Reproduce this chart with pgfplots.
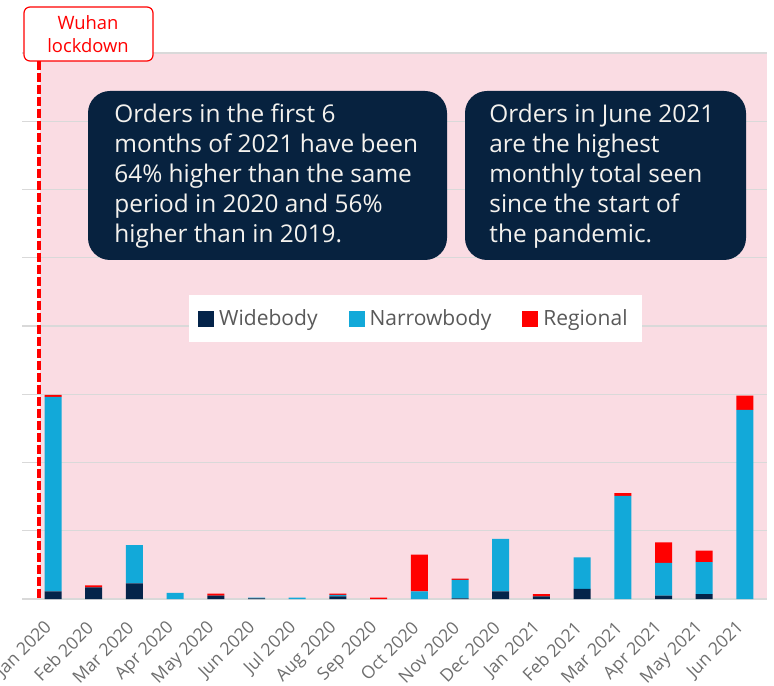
\documentclass[border=0pt]{standalone}
\usepackage{pgfplots}
\pgfplotsset{compat=1.18}
\usepackage{fontspec}
\setmainfont{Open Sans}
\definecolor{wide}{HTML}{04244A}
\definecolor{narrow}{HTML}{12A9D9}
\definecolor{regional}{HTML}{FF0000}
\definecolor{pinkbg}{HTML}{FADCE3}
\definecolor{boxnavy}{HTML}{07223F}
\definecolor{gridgray}{HTML}{D9D9D9}
\definecolor{ticktext}{HTML}{6E6E6E}
\definecolor{legtext}{HTML}{595959}
\definecolor{boxtext}{HTML}{F4F2EE}
\begin{document}
\begin{tikzpicture}
% pink shaded period (from Wuhan lockdown onwards)
\begin{scope}[shift={(0pt,342.5pt)}, x=0.5pt, y=-0.5pt]
\fill[pinkbg] (40,53) rectangle (767,599);
\end{scope}
\begin{axis}[
  at={(11pt,43pt)}, anchor=south west,
  scale only axis, width=372.5pt, height=273pt,
  xmin=-0.762, xmax=17.543, ymin=0, ymax=800,
  ybar stacked, bar width=8.5pt,
  axis line style={draw=none},
  ytick={0,100,...,800}, yticklabels={},
  ymajorgrids, grid style={gridgray, line width=0.6pt},
  major tick length=0pt,
  xtick={0,...,17},
  xticklabels={Jan 2020, Feb 2020, Mar 2020, Apr 2020, May 2020, Jun 2020, Jul 2020, Aug 2020, Sep 2020, Oct 2020, Nov 2020, Dec 2020, Jan 2021, Feb 2021, Mar 2021, Apr 2021, May 2021, Jun 2021},
  xticklabel style={font=\fontsize{8.8}{10}\selectfont, text=ticktext, xshift=0.5pt, yshift=-10.5pt, rotate=45, anchor=east},
  legend columns=3,
  legend image code/.code={\fill[#1] (0pt,-4pt) rectangle (8pt,4pt);},
  legend style={at={(0.528,0.513)}, anchor=center, draw=none, fill=white,
    font=\fontsize{10.5}{12}\selectfont, text=legtext,
    inner xsep=4.5pt, inner ysep=5pt,
    /tikz/every even column/.append style={column sep=13pt},
    nodes={inner xsep=2.5pt}},
]
\addplot[fill=wide, draw=none] coordinates {
 (0,11) (1,17) (2,23) (3,0) (4,5) (5,1) (6,0) (7,4) (8,0) (9,0)
 (10,1) (11,11) (12,4) (13,15) (14,0) (15,5) (16,7) (17,0)};
\addlegendentry{Widebody}
\addplot[fill=narrow, draw=none] coordinates {
 (0,285) (1,0) (2,56) (3,9) (4,0) (5,1) (6,2) (7,2) (8,0) (9,11)
 (10,27) (11,77) (12,0) (13,46) (14,151) (15,48) (16,47) (17,277)};
\addlegendentry{Narrowbody}
\addplot[fill=regional, draw=none] coordinates {
 (0,3) (1,3) (2,0) (3,0) (4,3) (5,0) (6,0) (7,2) (8,2) (9,54)
 (10,2) (11,0) (12,3) (13,0) (14,4) (15,30) (16,17) (17,21)};
\addlegendentry{Regional}
\end{axis}
\begin{scope}[shift={(0pt,342.5pt)}, x=0.5pt, y=-0.5pt]
% lockdown marker
\draw[regional, line width=1.8pt, dash pattern=on 4.5pt off 1.5pt] (39,61) -- (39,599);
\draw[regional, line width=0.6pt, fill=white, rounded corners=3pt] (24,7) rectangle (153,61);
\node[text=regional, font=\fontsize{9.2}{11}\selectfont, anchor=base] at (88,29.5) {Wuhan};
\node[text=regional, font=\fontsize{9.2}{11}\selectfont, anchor=base] at (88,53) {lockdown};
% annotation boxes
\fill[boxnavy, rounded corners=11pt] (88,91) rectangle (447,260);
\fill[boxnavy, rounded corners=11pt] (465,91) rectangle (746,260);
\begin{scope}[every node/.style={text=boxtext, font=\fontsize{12.2}{14}\selectfont, anchor=base west, inner sep=0pt}]
\node at (114,123) {Orders in the first 6};
\node at (114,153) {months of 2021 have been};
\node at (114,183) {64\% higher than the same};
\node at (114,213) {period in 2020 and 56\%};
\node at (114,243) {higher than in 2019.};
\node at (489,123) {Orders in June 2021};
\node at (489,153) {are the highest};
\node at (489,183) {monthly total seen};
\node at (489,213) {since the start of};
\node at (489,243) {the pandemic.};
\end{scope}
\end{scope}
\pgfresetboundingbox
\useasboundingbox (0,0) rectangle (387pt,342.5pt);
\end{tikzpicture}
\end{document}
